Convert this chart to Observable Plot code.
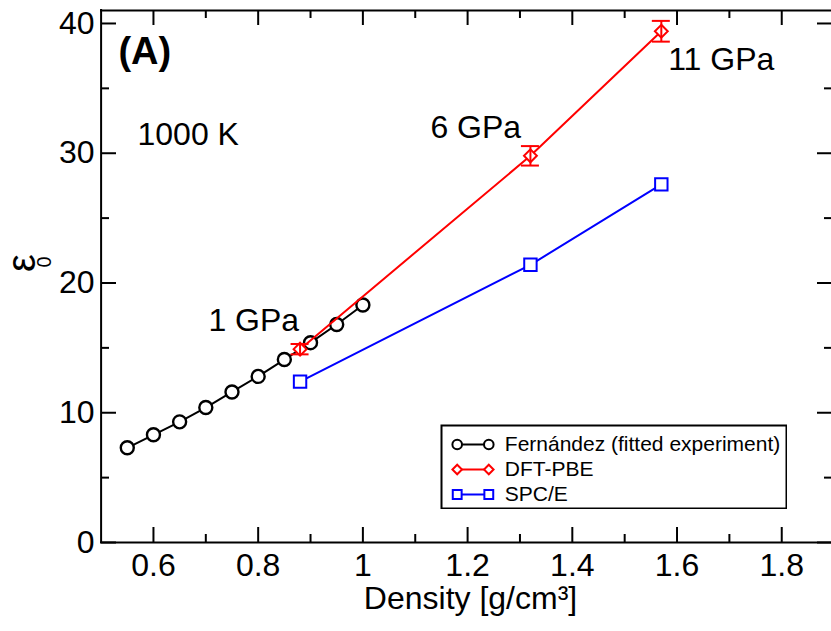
<!DOCTYPE html>
<html><head><meta charset="utf-8">
<script src="https://cdn.jsdelivr.net/npm/d3@7"></script>
<script src="https://cdn.jsdelivr.net/npm/@observablehq/plot@0.6"></script>
<style>
body{margin:0;background:#fff;}
#wrap{position:relative;width:831px;height:631px;overflow:hidden;}
#legend{position:absolute;left:440px;top:424px;}
</style></head><body><div id="wrap"><div id="main"></div><div id="legend"></div></div>
<script>
// ---- data ----
const seriesNames = ["Fernández (fitted experiment)", "DFT-PBE", "SPC/E"];
const seriesColors = ["black", "red", "blue"];
const seriesSymbols = ["circle", "diamond2", "square"];

const fernDensity = [0.55, 0.60, 0.65, 0.70, 0.75, 0.80, 0.85, 0.90, 0.95, 1.00];
const fernEps     = [7.3, 8.3, 9.3, 10.4, 11.6, 12.8, 14.1, 15.4, 16.8, 18.3];

const dftDensity = [0.88, 1.32, 1.57];
const dftEps     = [14.9, 29.8, 39.4];
const dftErr     = [0.4, 0.75, 0.8];

const spcDensity = [0.88, 1.32, 1.57];
const spcEps     = [12.4, 21.4, 27.6];

const xMajor = [0.6, 0.8, 1.0, 1.2, 1.4, 1.6, 1.8];
const xTickLabels = ["0.6", "0.8", "1", "1.2", "1.4", "1.6", "1.8"];
const xMinor = [0.7, 0.9, 1.1, 1.3, 1.5, 1.7];
const yMajor = [0, 10, 20, 30, 40];
const yTickLabels = ["0", "10", "20", "30", "40"];
const yMinor = [5, 15, 25, 35];

const annotText = ["1000 K", "1 GPa", "6 GPa", "11 GPa"];
const annotX    = [0.5695, 0.705, 1.129, 1.583];
const annotY    = [30.6, 16.28, 31.19, 36.45];
const panelLabel = "(A)";
const panelX = 0.533, panelY = 36.9;

const xLabel = "Density [g/cm³]";
const yLabelMain = "ε";
const yLabelSub = "0";

// ---- build tables ----
const fern = fernDensity.map((x, i) => ({x, y: fernEps[i]}));
const dft = dftDensity.map((x, i) => ({x, y: dftEps[i], e: dftErr[i]}));
const spc = spcDensity.map((x, i) => ({x, y: spcEps[i]}));
const annots = annotText.map((t, i) => ({t, x: annotX[i], y: annotY[i]}));

const W = 831, H = 631, mL = 101, mR = 0, mT = 10, mB = 89;
const fw = W - mL - mR, fh = H - mT - mB;
const font = "'Liberation Sans', Arial, Helvetica, sans-serif";

const main = Plot.plot({
  width: W, height: H,
  marginLeft: mL, marginRight: mR, marginTop: mT, marginBottom: mB,
  style: {fontFamily: font, fontSize: "32px", color: "black", background: "white"},
  x: {domain: [0.5, 1.9], range: [100.6, 833.6], ticks: xMajor, tickSize: 0, tickPadding: 11,
      tickFormat: d => xTickLabels[xMajor.indexOf(d)], label: null},
  y: {domain: [0, 41], ticks: yMajor, tickSize: 0, tickPadding: 7,
      tickFormat: d => yTickLabels[yMajor.indexOf(d)], label: null},
  marks: [
    // frame lines (left, bottom, top)
    Plot.ruleX([0.5], {x: d => d, stroke: "black", strokeWidth: 2, insetTop: -1, insetBottom: -1}),
    Plot.ruleY([0], {y: d => d, stroke: "black", strokeWidth: 2, insetLeft: -1}),
    Plot.ruleY([41], {y: d => d, stroke: "black", strokeWidth: 2, insetLeft: -1}),
    // inward ticks
    Plot.ruleX(xMajor, {x: d => d, insetTop: fh - 15, stroke: "black", strokeWidth: 2}),
    Plot.ruleX(xMinor, {x: d => d, insetTop: fh - 8, stroke: "black", strokeWidth: 2}),
    Plot.ruleX(xMajor, {x: d => d, insetBottom: fh - 15, stroke: "black", strokeWidth: 2}),
    Plot.ruleX(xMinor, {x: d => d, insetBottom: fh - 8, stroke: "black", strokeWidth: 2}),
    Plot.ruleY(yMajor, {y: d => d, insetRight: fw - 15, stroke: "black", strokeWidth: 2}),
    Plot.ruleY(yMinor, {y: d => d, insetRight: fw - 8, stroke: "black", strokeWidth: 2}),
    Plot.ruleY(yMajor, {y: d => d, insetLeft: fw - 14, stroke: "black", strokeWidth: 2}),
    Plot.ruleY(yMinor, {y: d => d, insetLeft: fw - 7, stroke: "black", strokeWidth: 2}),
    // Fernández
    Plot.line(fern, {x: "x", y: "y", stroke: "black", strokeWidth: 2}),
    Plot.dot(fern, {x: "x", y: "y", r: 6.5, stroke: "black", strokeWidth: 2.4, fill: "white"}),
    // DFT-PBE
    Plot.line(dft, {x: "x", y: "y", stroke: "red", strokeWidth: 2}),
    Plot.dot(dft, {x: "x", y: "y", symbol: "diamond2", r: 5.8, stroke: "red", strokeWidth: 2, fill: "white"}),
    Plot.ruleX(dft, {x: "x", y1: d => d.y - d.e, y2: d => d.y + d.e, stroke: "red", strokeWidth: 2}),
    Plot.ruleY(dft, {y: d => d.y + d.e, x1: "x", x2: "x", insetLeft: -9, insetRight: -9, stroke: "red", strokeWidth: 2}),
    Plot.ruleY(dft, {y: d => d.y - d.e, x1: "x", x2: "x", insetLeft: -9, insetRight: -9, stroke: "red", strokeWidth: 2}),
    // SPC/E
    Plot.line(spc, {x: "x", y: "y", stroke: "blue", strokeWidth: 2}),
    Plot.dot(spc, {x: "x", y: "y", symbol: "square", r: 7, stroke: "blue", strokeWidth: 2, fill: "white"}),
    // annotations
    Plot.text(annots, {x: "x", y: "y", text: "t", textAnchor: "start", lineAnchor: "bottom", fontSize: 32, fill: "black"}),
    Plot.text([panelLabel], {x: () => panelX, y: () => panelY, text: d => d, textAnchor: "start", lineAnchor: "bottom", fontSize: 38, fontWeight: "bold", fill: "black"}),
    // axis labels
    Plot.text([xLabel], {frameAnchor: "bottom", text: d => d, dx: 4, dy: 66, lineAnchor: "bottom", fontSize: 32, fill: "black"}),
    Plot.text([yLabelMain], {frameAnchor: "left", text: d => d, rotate: -90, dx: -79.5, dy: -4.5, fontSize: 40, fill: "black"}),
    Plot.text([yLabelSub], {frameAnchor: "left", text: d => d, rotate: -90, dx: -56.5, dy: -9, fontSize: 20, fill: "black"})
  ]
});
document.getElementById("main").appendChild(main);

// ---- legend ----
const legendMarks = [Plot.frame({stroke: "black", strokeWidth: 2})];
seriesNames.forEach((name, i) => {
  const seg = [{t: 0, name}, {t: 1, name}];
  legendMarks.push(Plot.line(seg, {x: "t", y: "name", stroke: seriesColors[i], strokeWidth: 2}));
  legendMarks.push(Plot.dot(seg, {x: "t", y: "name", symbol: seriesSymbols[i],
    r: seriesSymbols[i] === "circle" ? 4.8 : seriesSymbols[i] === "square" ? 5 : 4.3,
    stroke: seriesColors[i], strokeWidth: 2, fill: "white"}));
});
legendMarks.push(Plot.text(seriesNames, {x: () => 1, y: d => d, text: d => d, textAnchor: "start", dx: 16, fill: "black"}));

const legend = Plot.plot({
  width: 347, height: 85, margin: 1,
  style: {fontFamily: font, fontSize: "21px", color: "black", background: "white"},
  x: {domain: [0, 1], range: [16.7, 48.3], axis: null},
  y: {type: "point", domain: seriesNames, range: [19.3, 71], padding: 0, axis: null},
  marks: legendMarks
});
document.getElementById("legend").appendChild(legend);
</script>
</body></html>
